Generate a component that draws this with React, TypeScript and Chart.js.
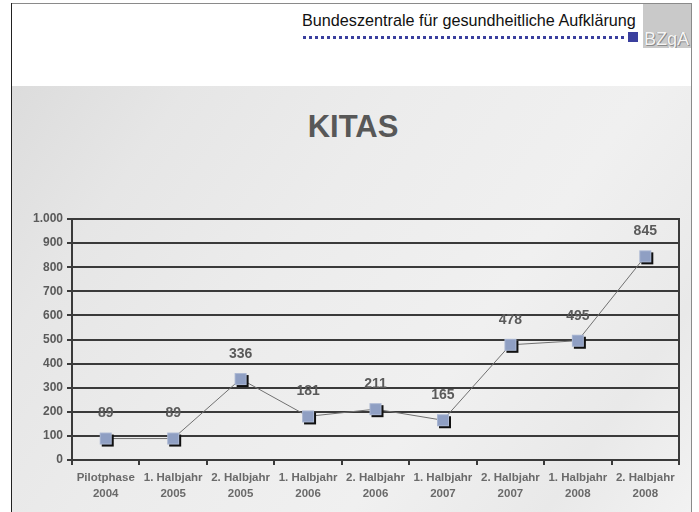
import React, { useEffect, useRef } from "react";
import { Chart, registerables } from "chart.js";

Chart.register(...registerables);

const categories: string[][] = [
  ["Pilotphase", "2004"],
  ["1. Halbjahr", "2005"],
  ["2. Halbjahr", "2005"],
  ["1. Halbjahr", "2006"],
  ["2. Halbjahr", "2006"],
  ["1. Halbjahr", "2007"],
  ["2. Halbjahr", "2007"],
  ["1. Halbjahr", "2008"],
  ["2. Halbjahr", "2008"],
];
const kitas: number[] = [89, 89, 336, 181, 211, 165, 478, 495, 845];
const yMin = 0;
const yMax = 1000;
const yStep = 100;
const chartTitle = "KITAS";
const headerText = "Bundeszentrale für gesundheitliche Aufklärung";
const logoText = "BZgA";

const FONT = "'Liberation Sans', Arial, sans-serif";

function makeMarker(): HTMLCanvasElement {
  const c = document.createElement("canvas");
  c.width = 18;
  c.height = 18;
  const ctx = c.getContext("2d")!;
  ctx.fillStyle = "#111";
  ctx.fillRect(5, 5, 12, 12);
  ctx.fillStyle = "#8f9fc3";
  ctx.fillRect(3, 3, 12, 12);
  ctx.strokeStyle = "#a9b6d2";
  ctx.lineWidth = 1;
  ctx.strokeRect(3.5, 3.5, 11, 11);
  return c;
}

const fmt = (v: number) => {
  const s = String(Math.round(v));
  return s.replace(/\B(?=(\d{3})+(?!\d))/g, ".");
};

export default function App() {
  const ref = useRef<HTMLCanvasElement | null>(null);

  useEffect(() => {
    if (!ref.current) return;
    const marker = makeMarker();

    const labelPlugin = {
      id: "valueLabels",
      afterDatasetsDraw(chart: any) {
        const ctx = chart.ctx;
        const meta = chart.getDatasetMeta(0);
        ctx.save();
        ctx.font = `bold 14px ${FONT}`;
        ctx.fillStyle = "#5a5a5a";
        ctx.textAlign = "center";
        ctx.textBaseline = "middle";
        meta.data.forEach((pt: any, i: number) => {
          ctx.fillText(String(kitas[i]), pt.x, pt.y - 25);
        });
        ctx.restore();
      },
    };

    const borderPlugin = {
      id: "rightBorder",
      beforeDatasetsDraw(chart: any) {
        const { ctx, chartArea } = chart;
        ctx.save();
        ctx.strokeStyle = "#3a3a3a";
        ctx.lineWidth = 2;
        ctx.beginPath();
        ctx.moveTo(chartArea.right, chartArea.top - 1);
        ctx.lineTo(chartArea.right, chartArea.bottom + 5);
        ctx.stroke();
        ctx.restore();
      },
    };

    const chart = new Chart(ref.current, {
      type: "line",
      data: {
        labels: categories,
        datasets: [
          {
            data: kitas,
            borderColor: "#707070",
            borderWidth: 1,
            pointStyle: marker as any,
            pointRadius: 9,
            pointHoverRadius: 9,
            tension: 0,
            fill: false,
          },
        ],
      },
      options: {
        animation: false,
        responsive: false,
        maintainAspectRatio: false,
        events: [],
        layout: { padding: { left: 12, right: 20, top: 219, bottom: 12 } },
        plugins: {
          legend: { display: false },
          tooltip: { enabled: false },
          title: { display: false },
        },
        scales: {
          x: {
            type: "category",
            offset: true,
            grid: {
              display: true,
              drawOnChartArea: false,
              drawTicks: true,
              tickLength: 5,
              color: "#3a3a3a",
              lineWidth: 2,
              offset: true,
            },
            border: { display: true, color: "#3a3a3a", width: 2 },
            ticks: {
              color: "#6a6a6a",
              font: { family: FONT, size: 11.5, weight: "bold", lineHeight: 1.4 },
              padding: 5,
              maxRotation: 0,
              autoSkip: false,
            },
            afterFit(scale: any) {
              scale.height = 40;
            },
          },
          y: {
            min: yMin,
            max: yMax,
            ticks: {
              stepSize: yStep,
              color: "#5a5a5a",
              font: { family: FONT, size: 12, weight: "bold" },
              padding: 4,
              callback: (v: any) => fmt(Number(v)),
            },
            grid: {
              color: "#3a3a3a",
              lineWidth: 2,
              tickLength: 5,
            },
            border: { display: true, color: "#3a3a3a", width: 2 },
            afterFit(scale: any) {
              scale.width = 60;
            },
          },
        },
      },
      plugins: [labelPlugin, borderPlugin],
    });
    return () => chart.destroy();
  }, []);

  const dots: React.ReactNode[] = [];
  for (let x = 303; x < 624; x += 6) {
    dots.push(
      <div
        key={x}
        style={{ position: "absolute", left: x, top: 36, width: 3, height: 3, background: "#3a3f9e" }}
      />
    );
  }

  return (
    <div style={{ position: "absolute", left: 0, top: 0, width: 699, height: 512, overflow: "hidden", background: "#ffffff" }}>
      {/* gray content background */}
      <div
        style={{
          position: "absolute",
          left: 12,
          top: 86,
          width: 680,
          height: 426,
          background:
            "linear-gradient(125deg, #dcdcdc 0%, #e6e6e6 18%, #ececec 40%, #f0f0f0 65%, #e9e9e9 85%, #f2f2f2 100%)",
        }}
      />
      {/* frame */}
      <div style={{ position: "absolute", left: 11, top: 3, width: 681, height: 1, background: "#8a8a8a" }} />
      <div style={{ position: "absolute", left: 11, top: 3, width: 1, height: 509, background: "#222" }} />
      <div style={{ position: "absolute", left: 691, top: 3, width: 1, height: 509, background: "#8a8a8a" }} />
      {/* logo box */}
      <div style={{ position: "absolute", left: 643, top: 4, width: 48, height: 44, background: "#c9c9c9", overflow: "hidden" }}>
        <div
          style={{
            position: "absolute",
            left: 1,
            top: 25,
            fontFamily: FONT,
            fontSize: 18,
            lineHeight: "20px",
            color: "#f5f5f5",
            textShadow: "1px 1px 0 #8a8a8a, -0.5px -0.5px 0 #9a9a9a",
            whiteSpace: "nowrap",
          }}
        >
          {logoText}
        </div>
      </div>
      {/* header text */}
      <div
        style={{
          position: "absolute",
          left: 302,
          top: 11,
          fontFamily: FONT,
          fontSize: 16.2,
          lineHeight: "19px",
          color: "#111",
          whiteSpace: "nowrap",
        }}
      >
        {headerText}
      </div>
      {dots}
      <div style={{ position: "absolute", left: 628, top: 32, width: 10, height: 10, background: "#3a3f9e" }} />
      {/* title */}
      <div
        style={{
          position: "absolute",
          left: 0,
          width: 706,
          top: 109,
          textAlign: "center",
          fontFamily: FONT,
          fontSize: 31,
          lineHeight: "36px",
          fontWeight: "bold",
          color: "#585858",
        }}
      >
        {chartTitle}
      </div>
      <canvas
        ref={ref}
        width={699}
        height={512}
        style={{ position: "absolute", left: 0, top: 0, width: 699, height: 512 }}
      />
    </div>
  );
}
